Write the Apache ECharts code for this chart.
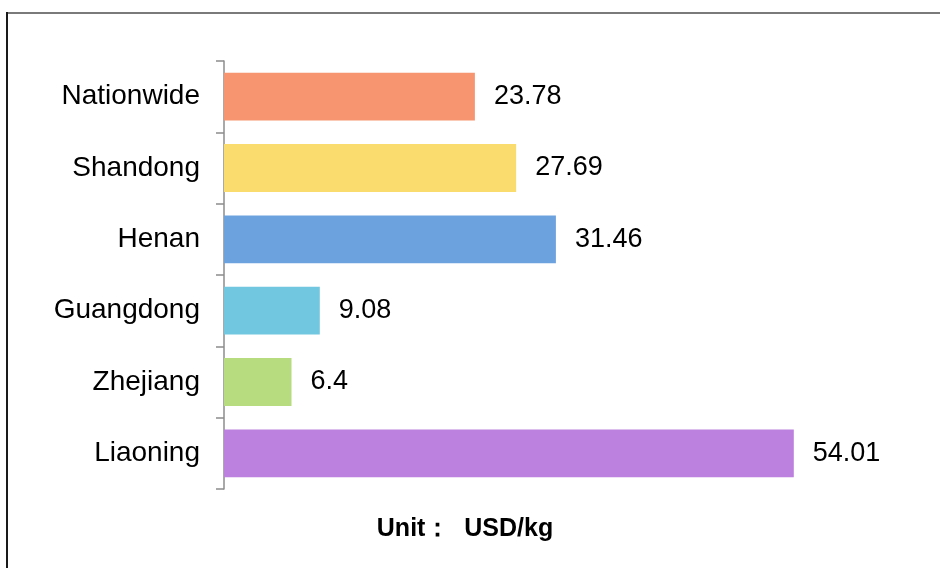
<!DOCTYPE html>
<html>
<head>
<meta charset="utf-8">
<script src="https://cdn.jsdelivr.net/npm/echarts@6/dist/echarts.min.js"></script>
<style>html,body{margin:0;padding:0;background:#fff}#c{width:940px;height:568px}</style>
</head>
<body>
<div id="c"></div>
<script>
const categories = ['Nationwide', 'Shandong', 'Henan', 'Guangdong', 'Zhejiang', 'Liaoning'];
const values = [23.78, 27.69, 31.46, 9.08, 6.4, 54.01];
const colors = ['#F89571', '#FADB6E', '#6CA3DF', '#70C7DF', '#B7DC7F', '#BC80DE'];
const unitLabel = 'Unit：  USD/kg';

const chart = echarts.init(document.getElementById('c'));
chart.setOption({
  animation: false,
  backgroundColor: '#fff',
  title: {
    text: unitLabel,
    left: 460, top: 512, textAlign: 'center',
    textStyle: { fontFamily: 'Liberation Sans, Arial, sans-serif', fontWeight: 'bold', fontSize: 25, color: '#000' }
  },
  grid: { left: 224, top: 61, width: 633, bottom: 79, containLabel: false },
  xAxis: { type: 'value', min: 0, max: 60, show: false },
  yAxis: {
    type: 'category', data: categories, inverse: true,
    axisLine: { show: true, lineStyle: { color: '#8c8c8c', width: 1.5 } },
    axisTick: { show: true, alignWithLabel: false, length: 8, lineStyle: { color: '#8c8c8c', width: 1.5 } },
    axisLabel: { margin: 24, fontSize: 28, color: '#000', fontFamily: 'Liberation Sans, Arial, sans-serif', padding: [7, 0, 0, 0] },
    splitLine: { show: false }
  },
  series: [{
    type: 'bar',
    data: values.map((v, i) => ({ value: v, itemStyle: { color: colors[i] } })),
    barCategoryGap: '33%',
    label: {
      show: true, position: 'right', distance: 19, fontSize: 27, color: '#000',
      fontFamily: 'Liberation Sans, Arial, sans-serif', padding: [7, 0, 0, 0]
    }
  }],
  graphic: [
    { type: 'line', shape: { x1: 6, y1: 13, x2: 940, y2: 13 }, style: { stroke: '#7a7a7a', lineWidth: 2 } },
    { type: 'line', shape: { x1: 7, y1: 12, x2: 7, y2: 568 }, style: { stroke: '#1a1a1a', lineWidth: 2 } }
  ]
});
</script>
</body>
</html>
